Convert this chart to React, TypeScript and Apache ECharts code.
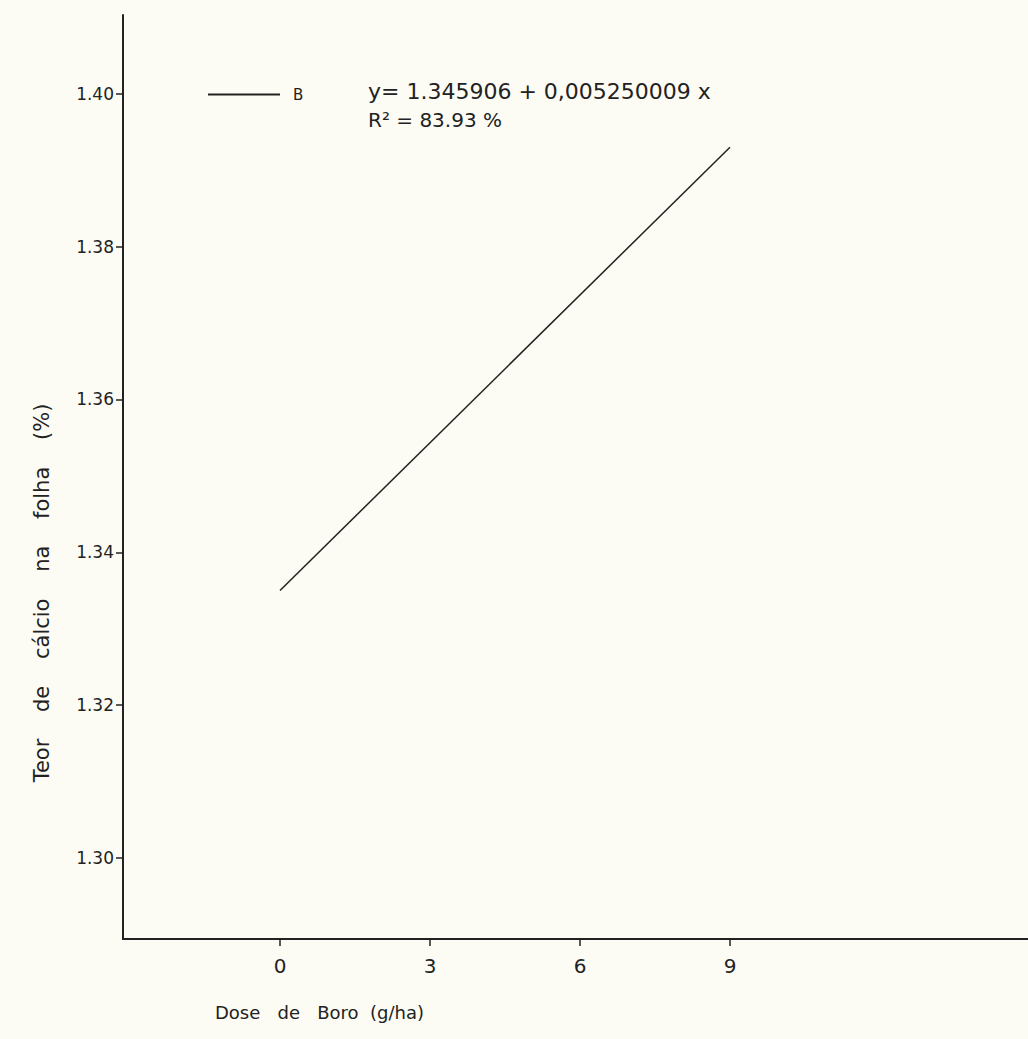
import React, { useEffect, useRef } from "react";
import * as echarts from "echarts";

const doseTicks = [0, 3, 6, 9];
const yTicks = [1.3, 1.32, 1.34, 1.36, 1.38, 1.4];
const yTickLabels = ["1.30", "1.32", "1.34", "1.36", "1.38", "1.40"];
const lineX = [0, 9];
const lineY = [1.335, 1.393];
const seriesName = "B";
const equationText = "y= 1.345906 + 0,005250009 x";
const r2Text = "R² = 83.93 %";
const yName = "Teor    de    cálcio    na    folha    (%)";
const xName = "Dose   de   Boro  (g/ha)";

const FONT = "DejaVu Sans";
const INK = "#222";

export default function App() {
  const ref = useRef<HTMLDivElement>(null);
  useEffect(() => {
    if (!ref.current) return;
    const chart = echarts.init(ref.current, null, { renderer: "svg" });
    const labelMap: Record<string, string> = {};
    yTicks.forEach((v, i) => (labelMap[v.toFixed(2)] = yTickLabels[i]));
    chart.setOption({
      animation: false,
      backgroundColor: "#fcfcf5",
      grid: { left: 123, right: 0, top: 15, bottom: 100, containLabel: false },
      legend: {
        data: [{ name: seriesName, icon: "rect" }],
        left: 203,
        top: 82,
        itemWidth: 72,
        itemHeight: 2,
        itemGap: 10,
        itemStyle: { color: INK },
        textStyle: { fontFamily: FONT, fontSize: 15, color: INK, padding: [0, 0, 0, 8] },
      },
      xAxis: {
        type: "value",
        min: -3.14,
        max: 14.96,
        axisLine: { show: true, onZero: false, lineStyle: { color: INK, width: 2 } },
        axisTick: { show: true, customValues: doseTicks, length: 7, lineStyle: { color: INK, width: 1.5 } },
        axisLabel: {
          customValues: doseTicks,
          fontFamily: FONT,
          fontSize: 20,
          color: INK,
          margin: 17,
        },
        splitLine: { show: false },
        name: xName,
        nameLocation: "start",
        nameGap: 0,
        nameTextStyle: {
          fontFamily: FONT,
          fontSize: 18,
          color: INK,
          align: "left",
          verticalAlign: "top",
          padding: [64, 0, 0, 92],
        },
      },
      yAxis: {
        type: "value",
        min: 1.2894,
        max: 1.4103,
        axisLine: { show: true, onZero: false, lineStyle: { color: INK, width: 2 } },
        axisTick: { show: true, customValues: yTicks, length: 7, lineStyle: { color: INK, width: 1.5 } },
        axisLabel: {
          customValues: yTicks,
          formatter: (v: number) => labelMap[v.toFixed(2)] ?? "",
          fontFamily: FONT,
          fontSize: 17,
          color: INK,
          margin: 9,
        },
        splitLine: { show: false },
      },
      graphic: [
        {
          type: "text",
          x: 42,
          y: 593,
          rotation: Math.PI / 2,
          style: {
            text: yName,
            fontFamily: FONT,
            fontSize: 21,
            fill: INK,
            align: "center",
            verticalAlign: "middle",
          },
        },
        {
          type: "text",
          left: 368,
          top: 80,
          style: { text: equationText, fontFamily: FONT, fontSize: 22, fill: INK },
        },
        {
          type: "text",
          left: 368,
          top: 110,
          style: { text: r2Text, fontFamily: FONT, fontSize: 20, fill: INK },
        },
      ],
      series: [
        {
          name: seriesName,
          type: "line",
          data: lineX.map((x, i) => [x, lineY[i]]),
          symbol: "none",
          itemStyle: { color: INK },
          lineStyle: { color: INK, width: 1.5 },
        },
      ],
    });
    return () => chart.dispose();
  }, []);
  return (
    <div
      ref={ref}
      style={{ position: "fixed", left: 0, top: 0, width: 1028, height: 1039 }}
    />
  );
}
